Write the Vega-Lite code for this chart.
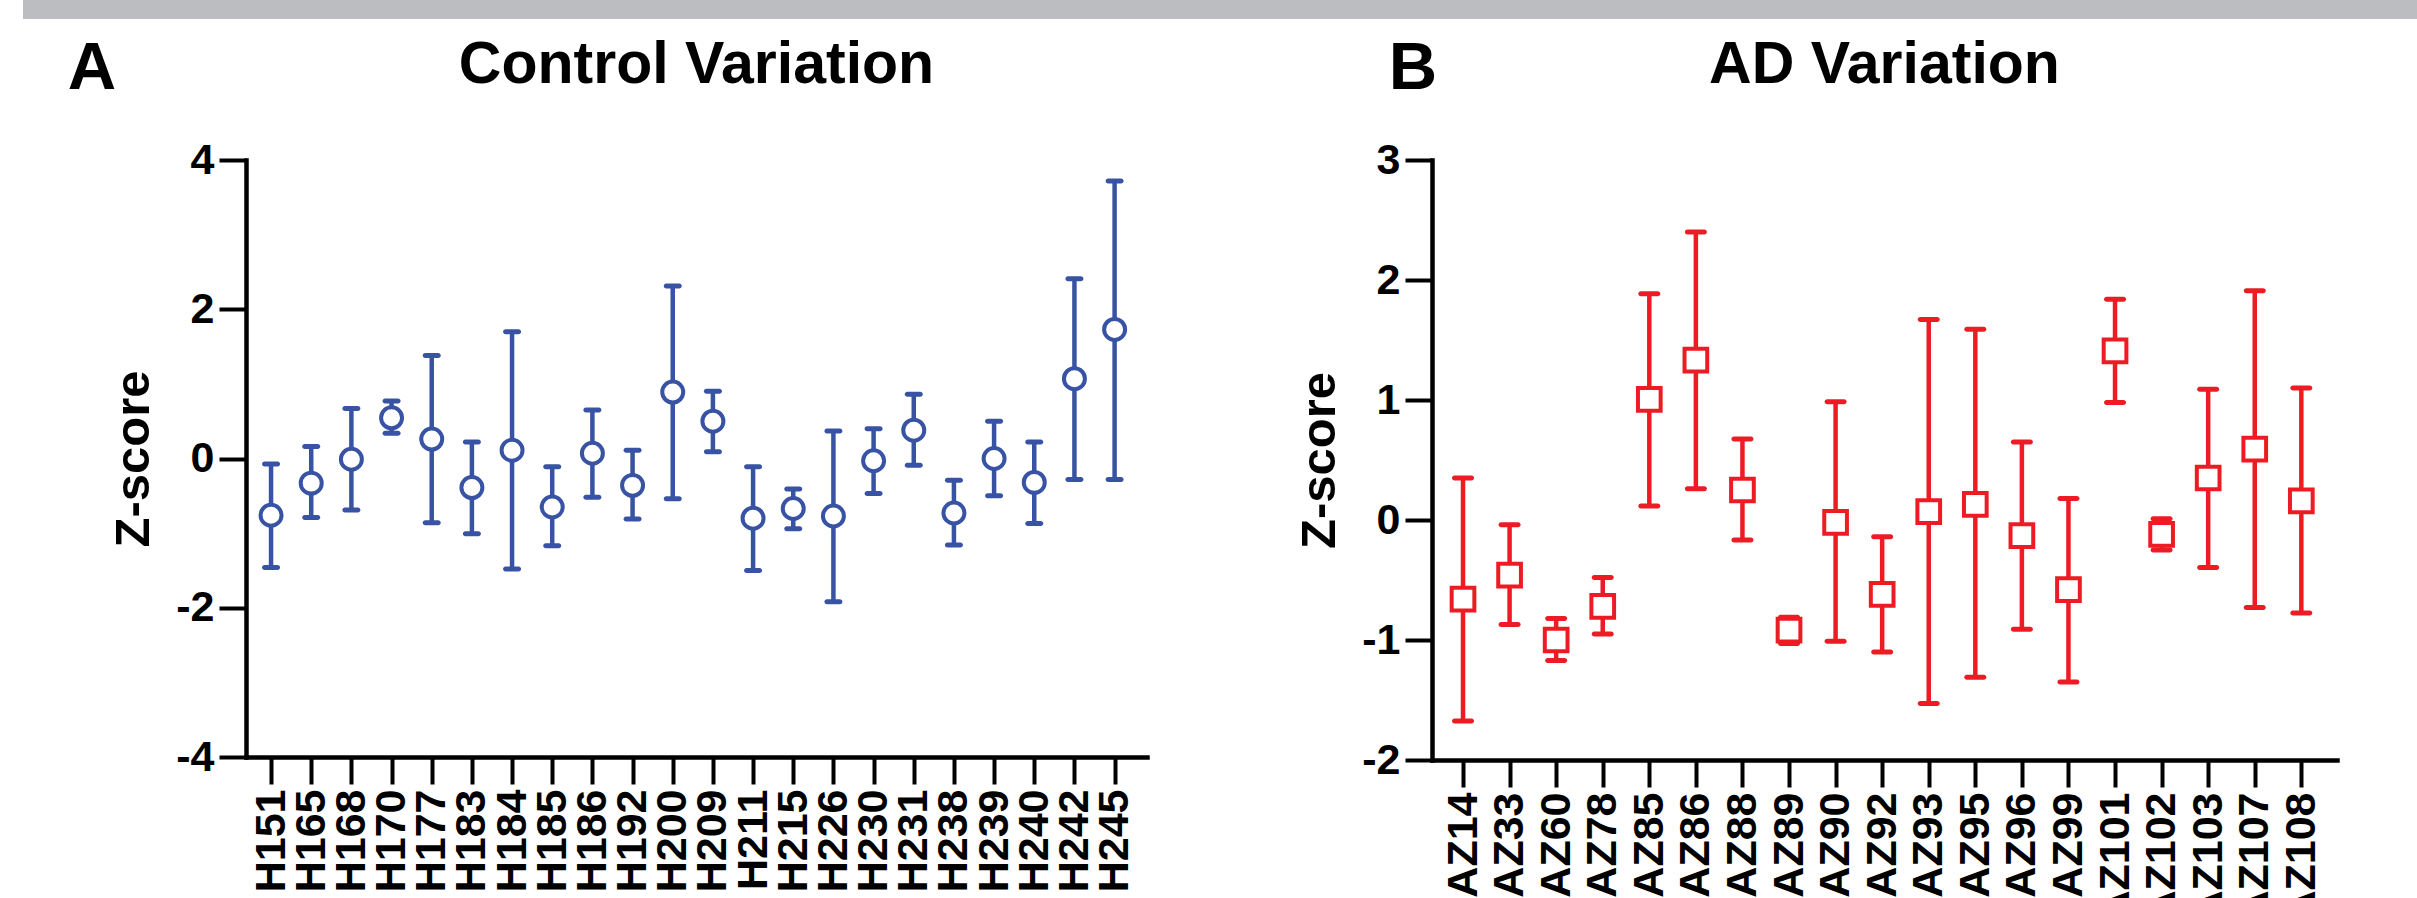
{
  "$schema": "https://vega.github.io/schema/vega-lite/v6.json",
  "padding": {"left": 23, "top": 0, "right": 0, "bottom": 0},
  "background": "white",
  "config": {
    "view": {"stroke": null},
    "font": "Liberation Sans",
    "axis": {
      "grid": false,
      "domainColor": "black",
      "domainWidth": 4.5,
      "domainCap": "square",
      "tickColor": "black",
      "tickWidth": 4,
      "tickSize": 27,
      "labelFont": "Liberation Sans",
      "labelFontWeight": "bold",
      "labelFontSize": 43,
      "labelColor": "black",
      "labelPadding": 5,
      "titleFont": "Liberation Sans",
      "titleFontWeight": "bold",
      "titleFontSize": 49,
      "titleColor": "black"
    },
    "title": {"font": "Liberation Sans", "fontWeight": "bold", "color": "black"}
  },
  "datasets": {
    "control": [
      {"sample": "H151", "mean": -0.76, "lo": -1.46, "hi": -0.075},
      {"sample": "H165", "mean": -0.33, "lo": -0.79, "hi": 0.16},
      {"sample": "H168", "mean": -0.01, "lo": -0.69, "hi": 0.67},
      {"sample": "H170", "mean": 0.545, "lo": 0.34, "hi": 0.77},
      {"sample": "H177", "mean": 0.26, "lo": -0.86, "hi": 1.38},
      {"sample": "H183", "mean": -0.39, "lo": -1.01, "hi": 0.22},
      {"sample": "H184", "mean": 0.11, "lo": -1.48, "hi": 1.7},
      {"sample": "H185", "mean": -0.65, "lo": -1.17, "hi": -0.11},
      {"sample": "H186", "mean": 0.07, "lo": -0.52, "hi": 0.65},
      {"sample": "H192", "mean": -0.36, "lo": -0.81, "hi": 0.11},
      {"sample": "H200", "mean": 0.89, "lo": -0.54, "hi": 2.31},
      {"sample": "H209", "mean": 0.5, "lo": 0.09, "hi": 0.9},
      {"sample": "H211", "mean": -0.8, "lo": -1.5, "hi": -0.11},
      {"sample": "H215", "mean": -0.67, "lo": -0.94, "hi": -0.41},
      {"sample": "H226", "mean": -0.77, "lo": -1.92, "hi": 0.37},
      {"sample": "H230", "mean": -0.03, "lo": -0.47, "hi": 0.4},
      {"sample": "H231", "mean": 0.38, "lo": -0.09, "hi": 0.86},
      {"sample": "H238", "mean": -0.73, "lo": -1.16, "hi": -0.29},
      {"sample": "H239", "mean": 0.0, "lo": -0.5, "hi": 0.5},
      {"sample": "H240", "mean": -0.32, "lo": -0.87, "hi": 0.22},
      {"sample": "H242", "mean": 1.07, "lo": -0.28, "hi": 2.41},
      {"sample": "H245", "mean": 1.73, "lo": -0.28, "hi": 3.72}
    ],
    "ad": [
      {"sample": "AZ14", "mean": -0.66, "lo": -1.675, "hi": 0.35},
      {"sample": "AZ33", "mean": -0.46, "lo": -0.87, "hi": -0.04},
      {"sample": "AZ60", "mean": -1.0, "lo": -1.17, "hi": -0.82},
      {"sample": "AZ78", "mean": -0.72, "lo": -0.95, "hi": -0.48},
      {"sample": "AZ85", "mean": 1.005, "lo": 0.117, "hi": 1.886},
      {"sample": "AZ86", "mean": 1.333, "lo": 0.26, "hi": 2.4},
      {"sample": "AZ88", "mean": 0.25, "lo": -0.167, "hi": 0.675},
      {"sample": "AZ89", "mean": -0.917, "lo": -1.03, "hi": -0.81},
      {"sample": "AZ90", "mean": -0.02, "lo": -1.01, "hi": 0.986},
      {"sample": "AZ92", "mean": -0.62, "lo": -1.1, "hi": -0.14},
      {"sample": "AZ93", "mean": 0.07, "lo": -1.53, "hi": 1.67},
      {"sample": "AZ95", "mean": 0.13, "lo": -1.31, "hi": 1.59},
      {"sample": "AZ96", "mean": -0.13, "lo": -0.91, "hi": 0.65},
      {"sample": "AZ99", "mean": -0.58, "lo": -1.35, "hi": 0.18},
      {"sample": "AZ101", "mean": 1.41, "lo": 0.98, "hi": 1.84},
      {"sample": "AZ102", "mean": -0.12, "lo": -0.25, "hi": 0.01},
      {"sample": "AZ103", "mean": 0.35, "lo": -0.395, "hi": 1.09},
      {"sample": "AZ107", "mean": 0.59, "lo": -0.73, "hi": 1.91},
      {"sample": "AZ108", "mean": 0.16, "lo": -0.775, "hi": 1.1}
    ]
  },
  "spacing": 16,
  "vconcat": [
    {
      "width": 2394,
      "height": 19,
      "view": {"fill": "#bcbdc0", "stroke": null},
      "data": {"values": []},
      "mark": "point"
    },
    {
      "spacing": 0,
      "hconcat": [
        {"width": 44, "height": 1, "data": {"values": []}, "mark": "point"},
        {
          "spacing": 148,
          "hconcat": [
            {
              "title": {"text": "A", "anchor": "start", "fontSize": 67, "baseline": "alphabetic", "dx": -42, "dy": 120, "offset": 0},
              "vconcat": [
                {
                  "title": {"text": "Control Variation", "fontSize": 59, "frame": "group", "anchor": "middle", "baseline": "alphabetic", "offset": -3},
                  "width": 901,
                  "height": 597,
                  "data": {"name": "control"},
                  "encoding": {
                    "x": {
                      "field": "sample", "type": "nominal", "sort": null,
                      "scale": {"type": "point", "padding": 0.715, "align": 0.436},
                      "axis": {"title": null, "labelAngle": -90, "labelOverlap": false}
                    }
                  },
                  "layer": [
                    {
                      "mark": {"type": "rule", "color": "#3953a4", "strokeWidth": 4.5},
                      "encoding": {
                        "y": {
                          "field": "lo", "type": "quantitative", "title": "Z-score",
                          "scale": {"domain": [-4, 4], "nice": false, "zero": false},
                          "axis": {"values": [-4, -2, 0, 2, 4], "titlePadding": 17, "labelExpr": "datum.value < 0 ? '-' + abs(datum.value) : '' + datum.value"}
                        },
                        "y2": {"field": "hi"}
                      }
                    },
                    {
                      "mark": {"type": "tick", "color": "#3953a4", "thickness": 5, "size": 18, "cornerRadius": 2.5, "opacity": 1},
                      "encoding": {"y": {"field": "lo", "type": "quantitative", "title": "Z-score"}}
                    },
                    {
                      "mark": {"type": "tick", "color": "#3953a4", "thickness": 5, "size": 18, "cornerRadius": 2.5, "opacity": 1},
                      "encoding": {"y": {"field": "hi", "type": "quantitative", "title": "Z-score"}}
                    },
                    {
                      "mark": {"type": "point", "shape": "circle", "filled": true, "fill": "white", "stroke": "#3953a4", "strokeWidth": 4, "size": 440, "opacity": 1},
                      "encoding": {"y": {"field": "mean", "type": "quantitative", "title": "Z-score"}}
                    }
                  ]
                }
              ]
            },
            {
              "title": {"text": "B", "anchor": "start", "fontSize": 67, "baseline": "alphabetic", "dx": 93, "dy": 120, "offset": 0},
              "vconcat": [
                {
                  "title": {"text": "AD Variation", "fontSize": 59, "frame": "group", "anchor": "middle", "baseline": "alphabetic", "offset": -3},
                  "width": 905,
                  "height": 600,
                  "data": {"name": "ad"},
                  "encoding": {
                    "x": {
                      "field": "sample", "type": "nominal", "sort": null,
                      "scale": {"type": "point", "padding": 0.716, "align": 0.465},
                      "axis": {"title": null, "labelAngle": -90, "labelOverlap": false}
                    }
                  },
                  "layer": [
                    {
                      "mark": {"type": "rule", "color": "#ed1c24", "strokeWidth": 4.5},
                      "encoding": {
                        "y": {
                          "field": "lo", "type": "quantitative", "title": "Z-score",
                          "scale": {"domain": [-2, 3], "nice": false, "zero": false},
                          "axis": {"values": [-2, -1, 0, 1, 2, 3], "titlePadding": 17, "labelExpr": "datum.value < 0 ? '-' + abs(datum.value) : '' + datum.value"}
                        },
                        "y2": {"field": "hi"}
                      }
                    },
                    {
                      "mark": {"type": "tick", "color": "#ed1c24", "thickness": 5, "size": 22, "cornerRadius": 2.5, "opacity": 1},
                      "encoding": {"y": {"field": "lo", "type": "quantitative", "title": "Z-score"}}
                    },
                    {
                      "mark": {"type": "tick", "color": "#ed1c24", "thickness": 5, "size": 22, "cornerRadius": 2.5, "opacity": 1},
                      "encoding": {"y": {"field": "hi", "type": "quantitative", "title": "Z-score"}}
                    },
                    {
                      "mark": {"type": "point", "shape": "square", "filled": true, "fill": "white", "stroke": "#ed1c24", "strokeWidth": 4, "size": 515, "opacity": 1},
                      "encoding": {"y": {"field": "mean", "type": "quantitative", "title": "Z-score"}}
                    }
                  ]
                }
              ]
            }
          ]
        }
      ]
    }
  ]
}
